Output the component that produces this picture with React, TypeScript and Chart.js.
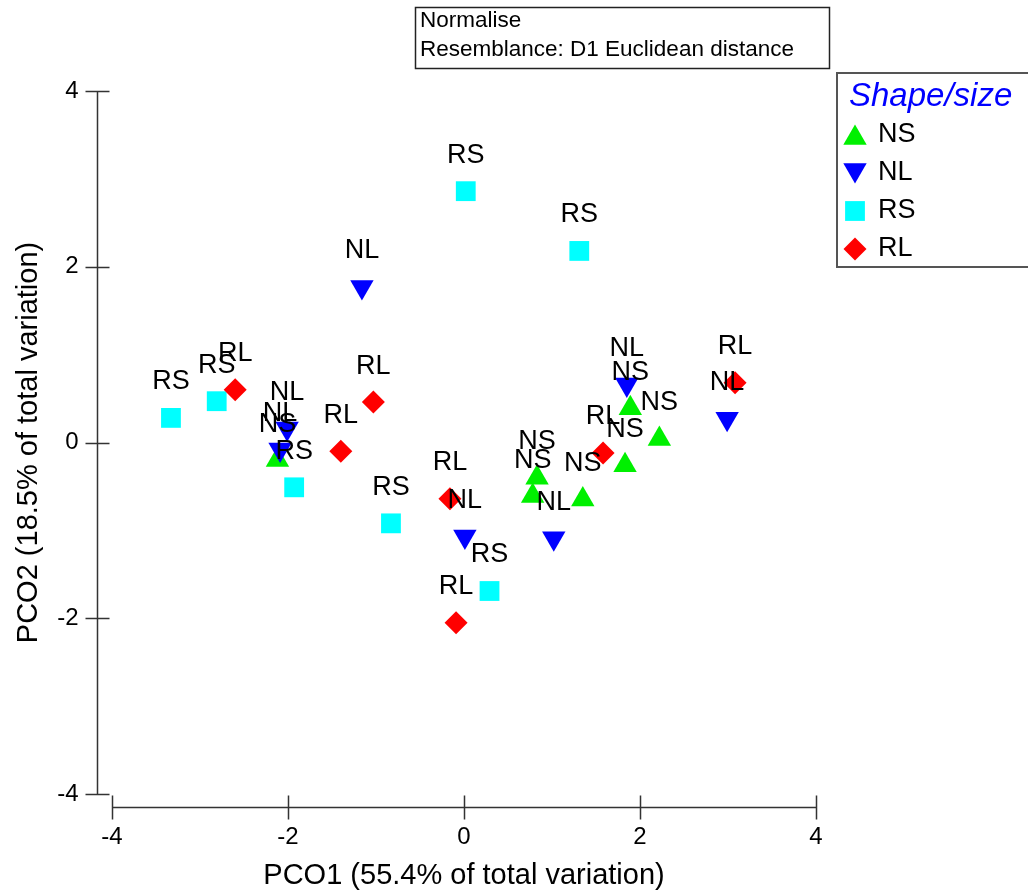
import { useEffect, useRef } from 'react';
import { Chart, registerables } from 'chart.js';

Chart.register(...registerables);

// ---- data ----
const groups = ['NS', 'NL', 'RS', 'RL'];
const nsX = [-2.12, 0.83, 0.78, 1.35, 1.83, 1.89, 2.22];
const nsY = [-0.2, -0.4, -0.61, -0.65, -0.26, 0.39, 0.04];
const nlX = [-1.16, -2.01, -2.09, 0.01, 1.02, 1.85, 2.99];
const nlY = [1.77, 0.16, -0.08, -1.07, -1.09, 0.66, 0.27];
const rsX = [-3.33, -2.81, -1.93, -0.83, 0.02, 1.31, 0.29];
const rsY = [0.28, 0.47, -0.51, -0.92, 2.86, 2.18, -1.69];
const rlX = [-2.6, -1.03, -1.4, -0.16, -0.09, 1.58, 3.08];
const rlY = [0.6, 0.46, -0.1, -0.64, -2.05, -0.12, 0.68];
const xTicks = [-4, -2, 0, 2, 4];
const yTicks = [-4, -2, 0, 2, 4];
const xTitle = 'PCO1 (55.4% of total variation)';
const yTitle = 'PCO2 (18.5% of total variation)';
const noteLines = ['Normalise', 'Resemblance: D1 Euclidean distance'];
const legendTitle = 'Shape/size';

// ---- styles ----
const colors = ['#00f000', '#0000ff', '#00ffff', '#ff0000'];
const styles = ['triangle', 'triangle', 'rect', 'rectRot'];
const rotations = [0, 180, 0, 0];
const radii = [13.5, 13.5, 14, 11.5];
const orders = [3, 2, 1, 0];
const FONT = '"Liberation Sans", Arial, Helvetica, sans-serif';

function toPoints(xs: number[], ys: number[]) {
  return xs.map((x, i) => ({ x, y: ys[i] }));
}

function drawMarker(ctx: CanvasRenderingContext2D, idx: number, x: number, y: number) {
  const r = radii[idx];
  ctx.fillStyle = colors[idx];
  ctx.beginPath();
  const st = styles[idx];
  if (st === 'triangle') {
    const s = rotations[idx] === 180 ? -1 : 1;
    const w = r * Math.sin((2 * Math.PI) / 3);
    ctx.moveTo(x, y - s * r);
    ctx.lineTo(x + w, y + s * r * 0.5);
    ctx.lineTo(x - w, y + s * r * 0.5);
  } else if (st === 'rect') {
    const h = Math.SQRT1_2 * r;
    ctx.rect(x - h, y - h, 2 * h, 2 * h);
  } else {
    ctx.moveTo(x - r, y);
    ctx.lineTo(x, y - r);
    ctx.lineTo(x + r, y);
    ctx.lineTo(x, y + r);
  }
  ctx.closePath();
  ctx.fill();
}

const decorPlugin = {
  id: 'pcoDecor',
  beforeDatasetsDraw(chart: any) {
    const ctx: CanvasRenderingContext2D = chart.ctx;
    const xs = chart.scales.x;
    const ys = chart.scales.y;
    const axisX = Math.round(xs.getPixelForValue(xTicks[0]) - 15) + 0.5;
    const axisY = Math.round(ys.getPixelForValue(yTicks[0]) + 13) + 0.5;
    ctx.save();
    ctx.strokeStyle = '#333333';
    ctx.lineWidth = 1.5;
    ctx.beginPath();
    ctx.moveTo(axisX, ys.getPixelForValue(yTicks[yTicks.length - 1]));
    ctx.lineTo(axisX, ys.getPixelForValue(yTicks[0]));
    yTicks.forEach((v) => {
      const p = Math.round(ys.getPixelForValue(v)) + 0.5;
      ctx.moveTo(axisX - 12, p);
      ctx.lineTo(axisX + 12, p);
    });
    ctx.moveTo(xs.getPixelForValue(xTicks[0]), axisY);
    ctx.lineTo(xs.getPixelForValue(xTicks[xTicks.length - 1]), axisY);
    xTicks.forEach((v) => {
      const p = Math.round(xs.getPixelForValue(v)) + 0.5;
      ctx.moveTo(p, axisY - 12);
      ctx.lineTo(p, axisY + 12);
    });
    ctx.stroke();

    ctx.fillStyle = '#000000';
    ctx.font = `24px ${FONT}`;
    ctx.textAlign = 'right';
    ctx.textBaseline = 'middle';
    yTicks.forEach((v) => {
      ctx.fillText(String(v), axisX - 19, ys.getPixelForValue(v));
    });
    ctx.textAlign = 'center';
    ctx.textBaseline = 'top';
    xTicks.forEach((v) => {
      ctx.fillText(String(v), xs.getPixelForValue(v), axisY + 18);
    });

    ctx.font = `29px ${FONT}`;
    ctx.textBaseline = 'middle';
    ctx.fillText(xTitle, (xs.left + xs.right) / 2, axisY + 68);
    ctx.save();
    ctx.translate(29, (ys.top + ys.bottom) / 2);
    ctx.rotate(-Math.PI / 2);
    ctx.fillText(yTitle, 0, 0);
    ctx.restore();

    // note box
    ctx.strokeStyle = '#222222';
    ctx.lineWidth = 1.5;
    ctx.strokeRect(415.5, 7.5, 414, 61);
    ctx.font = `22.5px ${FONT}`;
    ctx.textAlign = 'left';
    ctx.fillText(noteLines[0], 420, 21);
    ctx.fillText(noteLines[1], 420, 50);

    // legend
    ctx.strokeStyle = '#555555';
    ctx.lineWidth = 2;
    ctx.strokeRect(837, 73, 220, 194);
    ctx.fillStyle = '#0000ff';
    ctx.font = `italic 33px ${FONT}`;
    ctx.textAlign = 'left';
    ctx.fillText(legendTitle, 849, 97);
    ctx.font = `27px ${FONT}`;
    groups.forEach((g, i) => {
      const yy = 135 + i * 38;
      drawMarker(ctx, i, 855, i < 2 ? yy + (i === 0 ? 3 : -3) : yy);
      ctx.fillStyle = '#000000';
      ctx.fillText(g, 878, yy);
    });
    ctx.restore();
  },
  afterDatasetsDraw(chart: any) {
    const ctx: CanvasRenderingContext2D = chart.ctx;
    ctx.save();
    ctx.fillStyle = '#000000';
    ctx.font = `27px ${FONT}`;
    ctx.textAlign = 'center';
    ctx.textBaseline = 'middle';
    chart.data.datasets.forEach((ds: any, di: number) => {
      const meta = chart.getDatasetMeta(di);
      meta.data.forEach((el: any) => {
        ctx.fillText(ds.label, el.x, el.y - 36);
      });
    });
    ctx.restore();
  },
};

export default function App() {
  const ref = useRef<HTMLCanvasElement | null>(null);
  useEffect(() => {
    if (!ref.current) return;
    const series = [toPoints(nsX, nsY), toPoints(nlX, nlY), toPoints(rsX, rsY), toPoints(rlX, rlY)];
    const chart = new Chart(ref.current, {
      type: 'scatter',
      data: {
        datasets: groups.map((g, i) => ({
          label: g,
          data: series[i],
          order: orders[i],
          pointStyle: styles[i] as any,
          rotation: rotations[i],
          pointRadius: radii[i],
          pointHoverRadius: radii[i],
          backgroundColor: colors[i],
          borderColor: colors[i],
          borderWidth: 0,
          pointBorderWidth: 0,
        })),
      },
      options: {
        responsive: false,
        animation: false,
        events: [],
        layout: { padding: { left: 112, right: 212, top: 91, bottom: 102 } },
        scales: {
          x: { type: 'linear', min: -4, max: 4, display: false },
          y: { type: 'linear', min: -4, max: 4, display: false },
        },
        plugins: { legend: { display: false }, tooltip: { enabled: false } },
      },
      plugins: [decorPlugin],
    });
    return () => chart.destroy();
  }, []);
  return (
    <div style={{ position: 'absolute', left: 0, top: 0, width: 1028, height: 896, background: '#fff' }}>
      <canvas ref={ref} width={1028} height={896} style={{ display: 'block' }} />
    </div>
  );
}
